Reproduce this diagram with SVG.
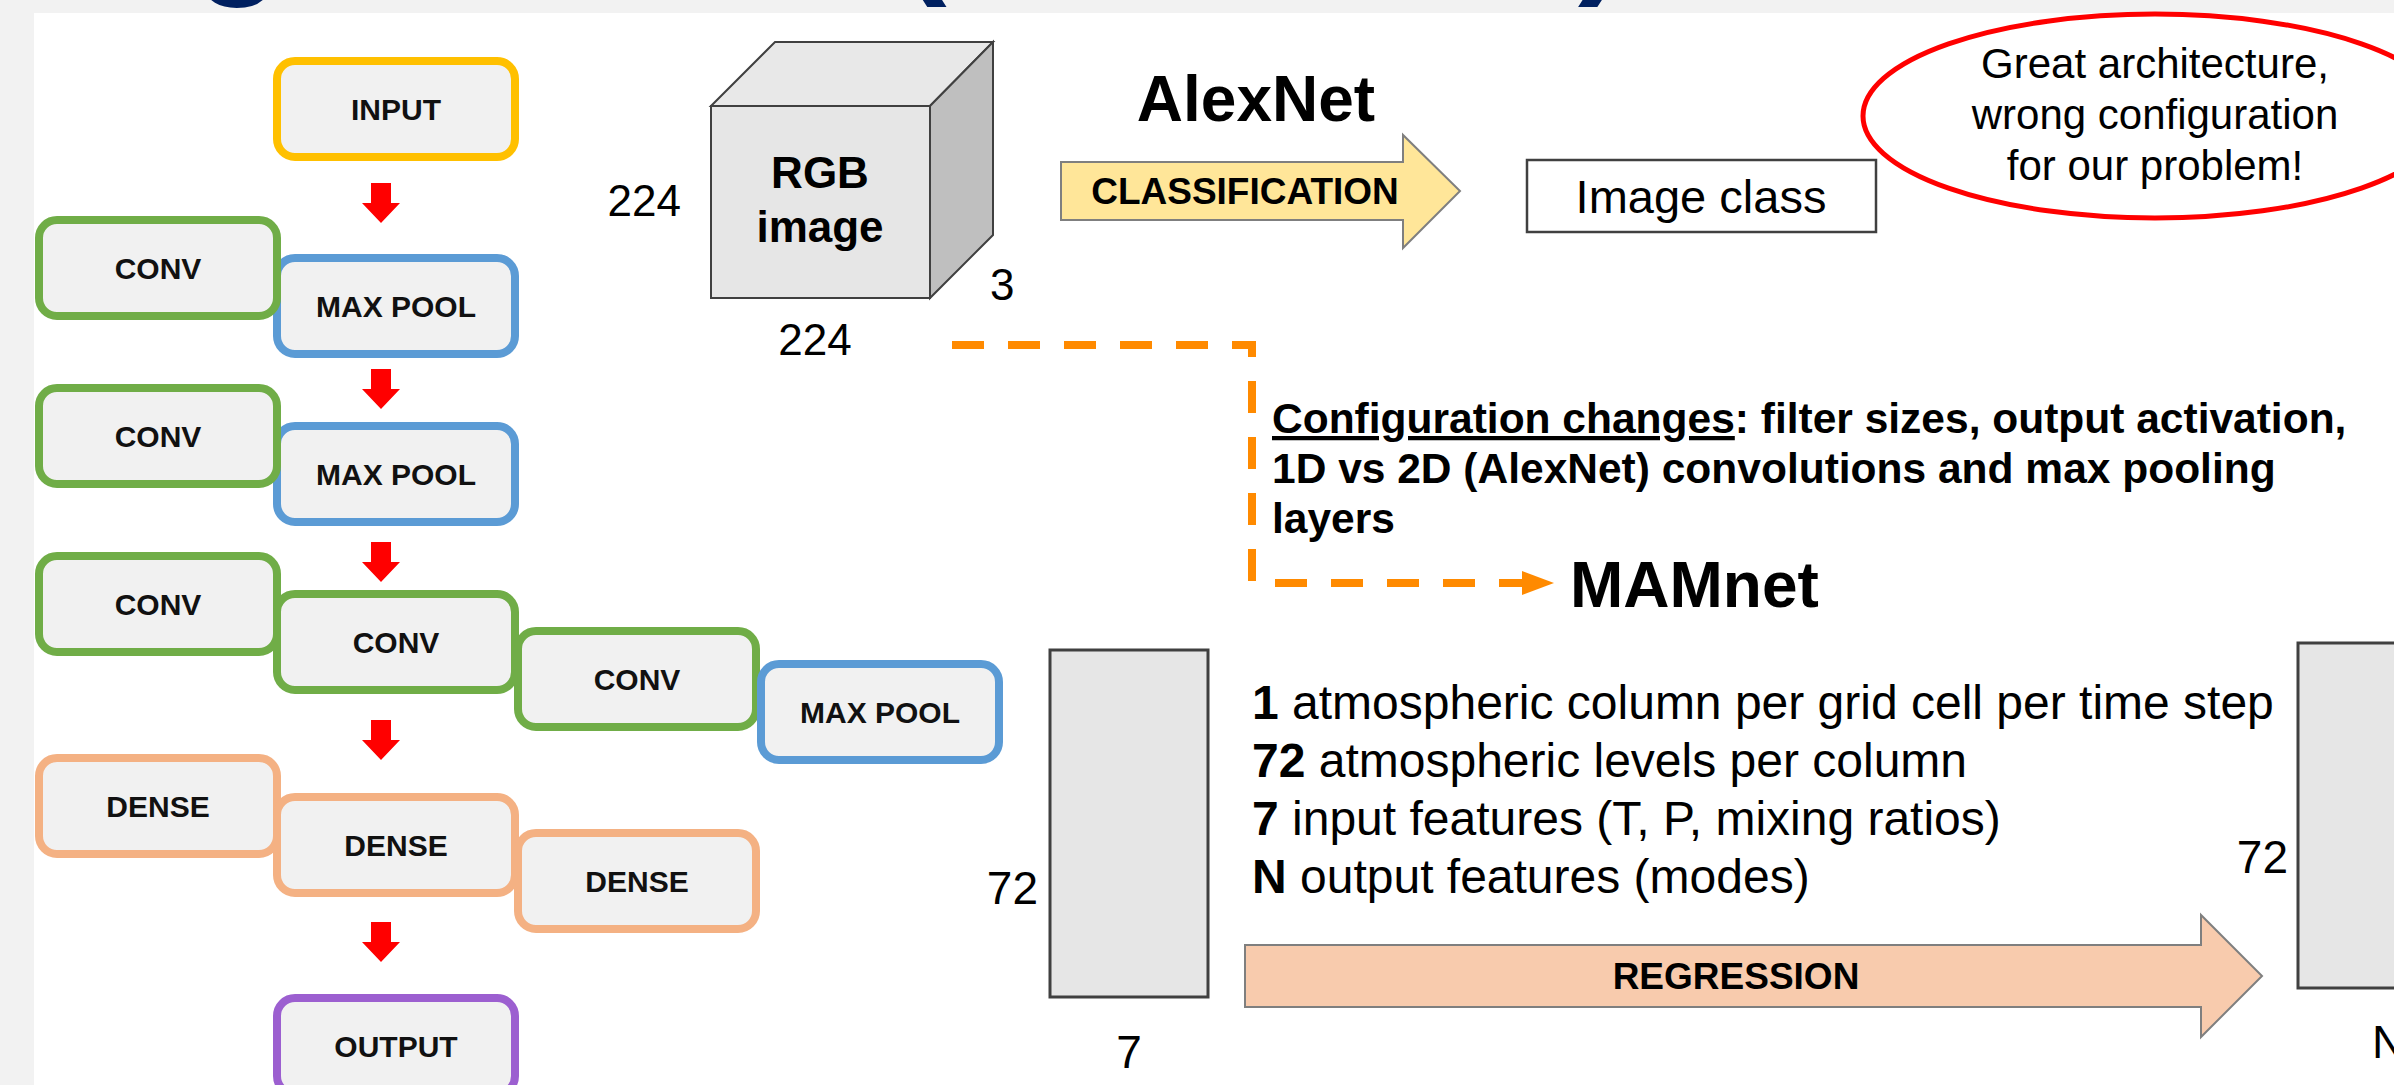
<svg xmlns="http://www.w3.org/2000/svg" width="2394" height="1085" viewBox="0 0 2394 1085">
<defs>
<style>
.box{fill:#F1F1F1;stroke-width:8}
.in{stroke:#FFC000}.cv{stroke:#70AD47}.mp{stroke:#5B9BD5}.dn{stroke:#F4B183}.out{stroke:#9C5FD0}
.lbl{font-family:"Liberation Sans",Arial,sans-serif;font-weight:bold;font-size:30px;fill:#111;text-anchor:middle}
.t{font-family:"Liberation Sans",Arial,sans-serif;fill:#000}
.b{font-weight:bold}
.red{fill:#FF0000}
.dash{fill:none;stroke:#FF8A00;stroke-width:8;stroke-dasharray:32 24}
.title{font-family:"Liberation Sans",Arial,sans-serif;font-weight:bold;font-size:140px;fill:#002060}
</style>
</defs>
<rect x="0" y="0" width="2394" height="1085" fill="#F2F2F2"/>
<rect x="34" y="13" width="2360" height="1072" fill="#FFFFFF"/>
<g id="title">
<text class="title" x="196" y="-22">g</text>
<text class="title" x="900" y="-22">(</text>
<text class="title" x="1578" y="-22">)</text>
</g>

<g id="input"><rect class="box in" x="277" y="61" width="238" height="96" rx="18"/><text class="lbl" x="396" y="120">INPUT</text></g>
<g id="maxpool1"><rect class="box mp" x="277" y="258" width="238" height="96" rx="18"/><text class="lbl" x="396" y="317">MAX POOL</text></g>
<g id="conv1"><rect class="box cv" x="39" y="220" width="238" height="96" rx="18"/><text class="lbl" x="158" y="279">CONV</text></g>
<g id="maxpool2"><rect class="box mp" x="277" y="426" width="238" height="96" rx="18"/><text class="lbl" x="396" y="485">MAX POOL</text></g>
<g id="conv2"><rect class="box cv" x="39" y="388" width="238" height="96" rx="18"/><text class="lbl" x="158" y="447">CONV</text></g>
<g id="conv3"><rect class="box cv" x="39" y="556" width="238" height="96" rx="18"/><text class="lbl" x="158" y="615">CONV</text></g>
<g id="conv4"><rect class="box cv" x="277" y="594" width="238" height="96" rx="18"/><text class="lbl" x="396" y="653">CONV</text></g>
<g id="conv5"><rect class="box cv" x="518" y="631" width="238" height="96" rx="18"/><text class="lbl" x="637" y="690">CONV</text></g>
<g id="maxpool3"><rect class="box mp" x="761" y="664" width="238" height="96" rx="18"/><text class="lbl" x="880" y="723">MAX POOL</text></g>
<g id="dense1"><rect class="box dn" x="39" y="758" width="238" height="96" rx="18"/><text class="lbl" x="158" y="817">DENSE</text></g>
<g id="dense2"><rect class="box dn" x="277" y="797" width="238" height="96" rx="18"/><text class="lbl" x="396" y="856">DENSE</text></g>
<g id="dense3"><rect class="box dn" x="518" y="833" width="238" height="96" rx="18"/><text class="lbl" x="637" y="892">DENSE</text></g>
<g id="output"><rect class="box out" x="277" y="998" width="238" height="96" rx="18"/><text class="lbl" x="396" y="1057">OUTPUT</text></g>

<g id="rgb-cube">
<polygon points="711,106 775,42 993,42 930,106" fill="#E8E8E8" stroke="#404040" stroke-width="2"/>
<polygon points="930,106 993,42 993,235 930,298" fill="#BFBFBF" stroke="#404040" stroke-width="2"/>
<rect x="711" y="106" width="219" height="192" fill="#E6E6E6" stroke="#404040" stroke-width="2"/>
<text class="t b" x="820" y="188" font-size="44" text-anchor="middle">RGB</text>
<text class="t b" x="820" y="242" font-size="44" text-anchor="middle">image</text>
<text class="t" x="681" y="216" font-size="44" text-anchor="end">224</text>
<text class="t" x="815" y="355" font-size="44" text-anchor="middle">224</text>
<text class="t" x="990" y="300" font-size="44">3</text>
</g>

<g id="alexnet-label"><text class="t b" x="1256" y="121" font-size="64" text-anchor="middle">AlexNet</text></g>

<g id="classification-arrow">
<polygon points="1061,162 1403,162 1403,135 1460,191 1403,248 1403,220 1061,220" fill="#FFE699" stroke="#7F7F7F" stroke-width="2"/>
<text class="t b" x="1245" y="204" font-size="37" text-anchor="middle" fill="#111">CLASSIFICATION</text>
</g>

<g id="image-class"><rect x="1527" y="160" width="349" height="72" fill="#FFFFFF" stroke="#404040" stroke-width="2.5"/><text class="t" x="1701" y="213" font-size="47" text-anchor="middle">Image class</text></g>

<g id="note">
<ellipse cx="2155" cy="116" rx="292" ry="102" fill="none" stroke="#FF0000" stroke-width="5"/>
<text class="t" x="2155" y="78" font-size="42" text-anchor="middle">Great architecture,</text>
<text class="t" x="2155" y="129" font-size="42" text-anchor="middle">wrong configuration</text>
<text class="t" x="2155" y="180" font-size="42" text-anchor="middle">for our problem!</text>
</g>

<g id="config-text">
<text class="t b" x="1272" y="433" font-size="42.5"><tspan text-decoration="underline">Configuration changes</tspan>: filter sizes, output activation,</text>
<text class="t b" x="1272" y="483" font-size="42.5">1D vs 2D (AlexNet) convolutions and max pooling</text>
<text class="t b" x="1272" y="533" font-size="42.5">layers</text>
</g>

<g id="mamnet-label"><text class="t b" x="1570" y="607" font-size="64">MAMnet</text></g>

<g id="input-column">
<rect x="1050" y="650" width="158" height="347" fill="#E6E6E6" stroke="#404040" stroke-width="3"/>
<text class="t" x="1038" y="904" font-size="46" text-anchor="end">72</text>
<text class="t" x="1129" y="1068" font-size="46" text-anchor="middle">7</text>
</g>

<g id="description">
<text class="t" x="1252" y="719" font-size="48"><tspan class="b">1</tspan> atmospheric column per grid cell per time step</text>
<text class="t" x="1252" y="777" font-size="48"><tspan class="b">72</tspan> atmospheric levels per column</text>
<text class="t" x="1252" y="835" font-size="48"><tspan class="b">7</tspan> input features (T, P, mixing ratios)</text>
<text class="t" x="1252" y="893" font-size="48"><tspan class="b">N</tspan> output features (modes)</text>
</g>

<g id="regression-arrow">
<polygon points="1245,945 2201,945 2201,915 2262,976 2201,1037 2201,1007 1245,1007" fill="#F8CBAD" stroke="#7F7F7F" stroke-width="2"/>
<text class="t b" x="1736" y="989" font-size="37" text-anchor="middle" fill="#111">REGRESSION</text>
</g>

<g id="output-column">
<rect x="2298" y="643" width="120" height="345" fill="#E6E6E6" stroke="#404040" stroke-width="3"/>
<text class="t" x="2288" y="873" font-size="46" text-anchor="end">72</text>
<text class="t" x="2372" y="1058" font-size="46">N</text>
</g>

<g id="connectors">
<polygon class="red" points="371,183 391,183 391,203 400,203 381,223 362,203 371,203"/>
<polygon class="red" points="371,369 391,369 391,389 400,389 381,409 362,389 371,389"/>
<polygon class="red" points="371,542 391,542 391,562 400,562 381,582 362,562 371,562"/>
<polygon class="red" points="371,720 391,720 391,740 400,740 381,760 362,740 371,740"/>
<polygon class="red" points="371,922 391,922 391,942 400,942 381,962 362,942 371,942"/>
<path class="dash" d="M952 345 H1252 V581"/>
<path class="dash" d="M1275 583 H1526"/>
<polygon points="1522,571 1554,583 1522,595" fill="#FF8A00"/>
</g>
</svg>
